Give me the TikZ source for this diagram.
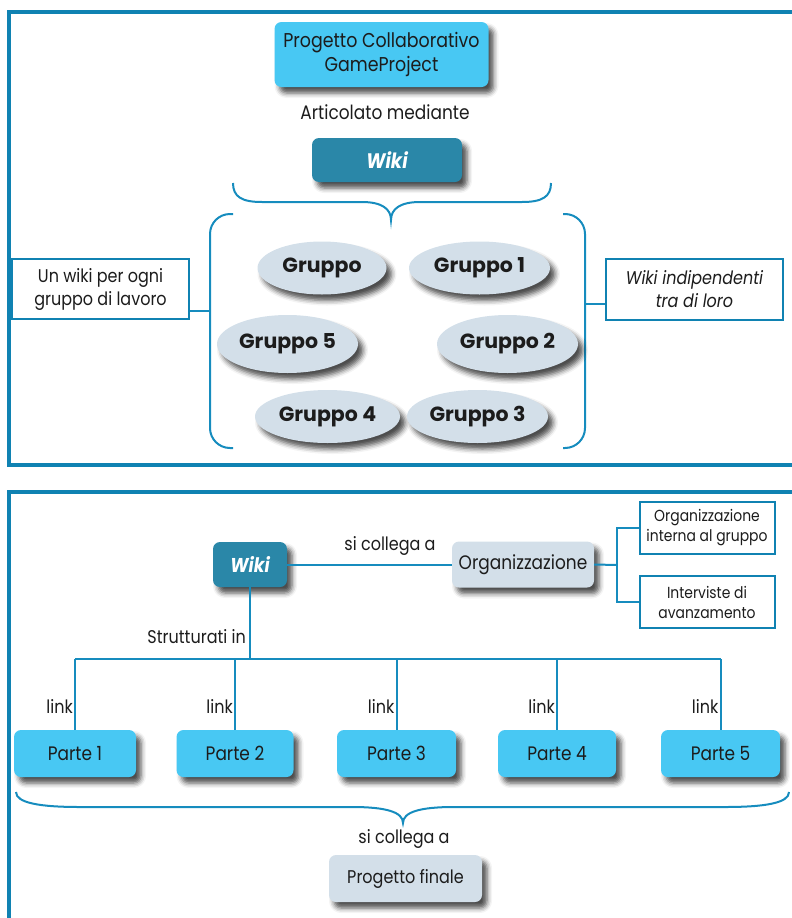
\documentclass[tikz,border=0pt]{standalone}
\usepackage{fontspec}
\setmainfont{Poppins}[FakeStretch=0.87]
\newfontfamily\grpfont{Poppins}
\usetikzlibrary{shapes.geometric,shadows.blur}
\definecolor{frameblue}{RGB}{16,130,178}
\definecolor{lineblue}{RGB}{22,140,190}
\definecolor{skyblue}{RGB}{72,200,243}
\definecolor{wikiteal}{RGB}{42,135,168}
\definecolor{greyblue}{RGB}{211,223,233}
\definecolor{txt}{RGB}{28,28,28}
\tikzset{
  shad/.style={blur shadow={shadow xshift=5pt, shadow yshift=-6pt, shadow blur radius=5pt, shadow opacity=70}},
  fr/.style={draw=frameblue, line width=3.5pt},
  conn/.style={draw=lineblue, line width=2pt},
  brk/.style={draw=lineblue, line width=2pt},
  skybox/.style={shad, fill=skyblue, rounded corners=7pt, text=txt, align=center, inner sep=0pt},
  wikibox/.style={shad, fill=wikiteal, rounded corners=7pt, text=white, inner sep=0pt, font=\fontsize{21}{24}\selectfont\bfseries\itshape},
  greybox/.style={shad, fill=greyblue, rounded corners=7pt, text=txt, align=center, inner sep=0pt},
  wbox/.style={draw=frameblue, line width=2pt, fill=white, text=txt, align=center, inner sep=0pt},
  grp/.style={shad, ellipse, fill=greyblue, text=txt, inner sep=0pt, font=\grpfont\fontsize{20.5}{24}\selectfont\bfseries},
  lbl/.style={text=txt, inner sep=0pt, font=\fontsize{18.4}{22}\selectfont},
}
\begin{document}
\begin{tikzpicture}[x=1pt, y=-1pt]
\useasboundingbox (0,0) rectangle (792,918);
% frames
\draw[fr] (795,12) -- (9,12) -- (9,465) -- (795,465);
\draw[fr] (795,492) -- (9,492) -- (9,925);

% ---------- top panel
\node[skybox, minimum width=214pt, minimum height=65pt, font=\fontsize{20}{24}\selectfont] (proj) at (381.5,54.5) {Progetto Collaborativo\\GameProject};
\node[lbl, font=\fontsize{19.5}{22}\selectfont] (artic) at (385,112) {Articolato mediante};
\node[wikibox, minimum width=150pt, minimum height=44pt] (wiki1) at (387,160) {Wiki};

% brace under Wiki
\draw[brk] (233,183) .. controls (233,197) and (242,202) .. (262,202) -- (362,202)
  .. controls (382,202) and (391,209) .. (391,220)
  .. controls (391,209) and (400,202) .. (420,202) -- (522,202)
  .. controls (542,202) and (551,197) .. (551,183);

% brackets
\draw[brk, rounded corners=20pt] (233,214) -- (210,214) -- (210,448) -- (233,448);
\draw[brk, rounded corners=20pt] (563,214) -- (585,214) -- (585,448) -- (563,448);

% side boxes
\node[wbox, minimum width=177pt, minimum height=60pt, font=\fontsize{18.4}{23}\selectfont] (left) at (100.5,289) {Un wiki per ogni\\gruppo di lavoro};
\node[wbox, minimum width=177pt, minimum height=61pt, font=\fontsize{18.4}{23}\selectfont\itshape] (right) at (694.5,289.5) {Wiki indipendenti\\tra di loro};
\coordinate (lb) at (210,311);
\coordinate (rb) at (585,304);
\draw[conn] (left.east |- lb) -- (lb);
\draw[conn] (right.west |- rb) -- (rb);

% groups
\node[grp, minimum width=129pt, minimum height=53pt] (g0) at (322,268) {Gruppo};
\node[grp, minimum width=141pt, minimum height=53pt] (g1) at (479.5,268) {Gruppo 1};
\node[grp, minimum width=141pt, minimum height=58pt] (g5) at (287.5,344) {Gruppo 5};
\node[grp, minimum width=141pt, minimum height=58pt] (g2) at (507.5,344) {Gruppo 2};
\node[grp, minimum width=145pt, minimum height=53pt] (g4) at (327.5,416.5) {Gruppo 4};
\node[grp, minimum width=141pt, minimum height=53pt] (g3) at (477.5,416.5) {Gruppo 3};

% ---------- bottom panel
\node[wikibox, minimum width=74pt, minimum height=45pt, font=\fontsize{20}{24}\selectfont\bfseries\itshape] (wiki2) at (250,564.5) {Wiki};
\node[greybox, minimum width=142pt, minimum height=46pt, font=\fontsize{19.5}{22}\selectfont] (org) at (523,564.5) {Organizzazione};
\draw[conn] (wiki2) -- (org);
\node[lbl] (coll1) at (390,546) {si collega a};

\node[wbox, minimum width=135pt, minimum height=52pt, font=\fontsize{16}{20}\selectfont] (o1) at (707,527.5) {Organizzazione\\interna al gruppo};
\node[wbox, minimum width=135pt, minimum height=52pt, font=\fontsize{16}{20}\selectfont] (o2) at (707,602) {Interviste di\\avanzamento};
\coordinate (br) at (617,565);
\draw[conn] (org.east) -- (br);
\draw[conn] (o1.west) -- (o1.west -| br) -- (o2.west -| br) -- (o2.west);

% parts
\node[skybox, minimum width=122pt, minimum height=47pt, font=\fontsize{19.5}{22}\selectfont] (p1) at (75,753.5) {Parte 1};
\node[skybox, minimum width=117pt, minimum height=47pt, font=\fontsize{19.5}{22}\selectfont] (p2) at (235,753.5) {Parte 2};
\node[skybox, minimum width=119pt, minimum height=47pt, font=\fontsize{19.5}{22}\selectfont] (p3) at (396.5,753.5) {Parte 3};
\node[skybox, minimum width=118pt, minimum height=47pt, font=\fontsize{19.5}{22}\selectfont] (p4) at (557,753.5) {Parte 4};
\node[skybox, minimum width=119pt, minimum height=47pt, font=\fontsize{19.5}{22}\selectfont] (p5) at (720.5,753.5) {Parte 5};

\coordinate (bus) at (0,659);
\draw[conn] (wiki2.south) -- (wiki2.south |- bus);
\draw[conn] (p1.north |- bus) -- (p5.north |- bus);
\foreach \p in {p1,p2,p3,p4,p5}{
  \draw[conn] (\p.north) -- (\p.north |- bus);
  \node[lbl, anchor=east] at ([xshift=-2pt]\p.north |- 0,706) {link};
}
\node[lbl, anchor=east] (strut) at (246,637) {Strutturati in};

% bottom brace
\draw[brk] (16,792) .. controls (16,803) and (40,807) .. (80,807) -- (352,807)
  .. controls (386,807) and (403,812) .. (403,823)
  .. controls (403,812) and (420,807) .. (454,807) -- (725,807)
  .. controls (765,807) and (789,803) .. (789,792);

\node[lbl] (coll2) at (404,839) {si collega a};
\node[greybox, minimum width=153pt, minimum height=47pt, font=\fontsize{18.4}{22}\selectfont] (fin) at (405.5,878.5) {Progetto finale};
\end{tikzpicture}
\end{document}
